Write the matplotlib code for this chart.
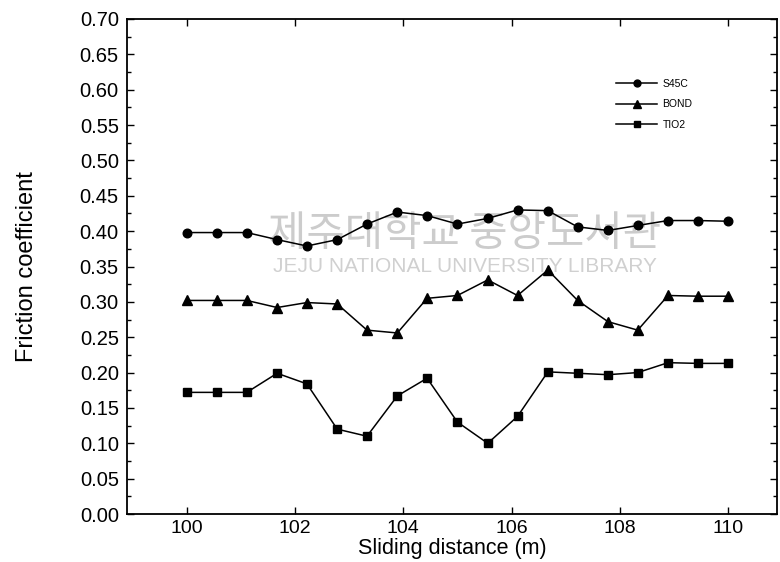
import matplotlib
matplotlib.use("Agg")
import matplotlib.pyplot as plt
from matplotlib.ticker import MultipleLocator, FormatStrFormatter

plt.rcParams['font.family'] = ['Liberation Sans', 'DejaVu Sans']

distance = [100.00, 100.56, 101.11, 101.67, 102.22, 102.78, 103.33, 103.89, 104.44,
            105.00, 105.56, 106.11, 106.67, 107.22, 107.78, 108.33, 108.89, 109.44, 110.00]
s45c = [0.398, 0.398, 0.398, 0.388, 0.379, 0.388, 0.410, 0.427, 0.422, 0.410,
        0.418, 0.430, 0.429, 0.406, 0.401, 0.408, 0.415, 0.415, 0.414]
bond = [0.302, 0.302, 0.302, 0.292, 0.299, 0.297, 0.260, 0.256, 0.305, 0.309,
        0.331, 0.309, 0.345, 0.302, 0.272, 0.260, 0.309, 0.308, 0.308]
tio2 = [0.172, 0.172, 0.172, 0.199, 0.184, 0.120, 0.110, 0.167, 0.192, 0.130,
        0.100, 0.138, 0.201, 0.199, 0.197, 0.200, 0.214, 0.213, 0.213]
labels = ["S45C", "BOND", "TIO2"]
xticks = [100, 102, 104, 106, 108, 110]

fig = plt.figure(figsize=(7.8, 5.62), dpi=100)
ax = fig.add_axes([0.163, 0.0854, 0.833, 0.8808])

ax.plot(distance, s45c, '-o', color='black', lw=1.1, ms=6.2, label=labels[0])
ax.plot(distance, bond, '-^', color='black', lw=1.1, ms=7, label=labels[1])
ax.plot(distance, tio2, '-s', color='black', lw=1.1, ms=5.5, label=labels[2])

# watermark
ax.text(0.52, 0.565, "제주대학교 중앙도서관", transform=ax.transAxes, ha='center', va='center',
        fontsize=30, color='#cccccc', family=['Noto Sans CJK KR', 'DejaVu Sans'], zorder=0)
ax.text(0.52, 0.50, "JEJU NATIONAL UNIVERSITY LIBRARY", transform=ax.transAxes, ha='center',
        va='center', fontsize=15, color='#d0d0d0', zorder=0)

ax.set_xlim(98.9, 110.9)
ax.set_ylim(0, 0.70)
ax.set_xticks(xticks)
ax.yaxis.set_major_locator(MultipleLocator(0.05))
ax.yaxis.set_minor_locator(MultipleLocator(0.025))
ax.yaxis.set_major_formatter(FormatStrFormatter('%.2f'))
ax.tick_params(which='both', direction='in', top=True, right=True)
ax.tick_params(axis='y', pad=6, labelsize=14.5)
ax.tick_params(axis='x', pad=4, labelsize=14)
ax.tick_params(which='major', length=5, width=1)
ax.tick_params(which='minor', length=3, width=1)
for s in ax.spines.values():
    s.set_linewidth(1.3)

ax.set_xlabel("Sliding distance (m)", fontsize=15.5, labelpad=1)
ax.set_ylabel("Friction coefficient", fontsize=17, labelpad=30)

leg = ax.legend(loc='upper left', bbox_to_anchor=(0.752, 0.879), frameon=False, fontsize=7.5,
                handlelength=4.0, labelspacing=1.0, markerscale=0.8, handletextpad=0.5,
                borderpad=0, borderaxespad=0)

fig.savefig("out.png", dpi=100)
